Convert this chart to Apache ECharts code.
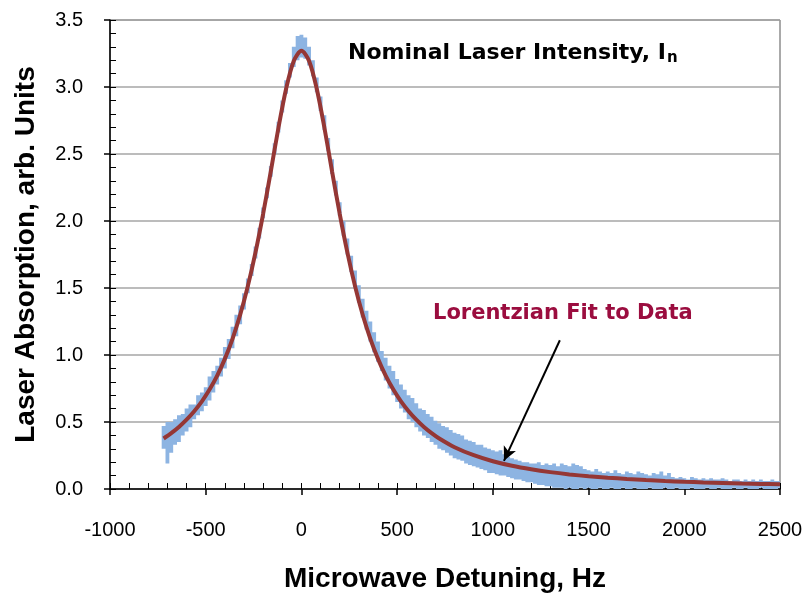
<!DOCTYPE html>
<html>
<head>
<meta charset="utf-8">
<script src="https://cdn.jsdelivr.net/npm/echarts@6/dist/echarts.min.js"></script>
<style>
  html, body { margin: 0; padding: 0; background: #fff; }
  #chart { width: 808px; height: 593px; }
</style>
</head>
<body>
<div id="chart"></div>
<script>
// measured trace, sampled every 20 Hz starting at -720 Hz (low / high of the noisy trace)
const blueStart = -720
const blueStep = 20
const blueLow = [
  0.30, 0.19, 0.27, 0.33, 0.35, 0.40, 0.43, 0.46, 0.52, 0.55,
  0.58, 0.62, 0.66, 0.72, 0.78, 0.84, 0.90, 0.97, 1.05, 1.14,
  1.23, 1.34, 1.46, 1.59, 1.72, 1.87, 2.02, 2.17, 2.33, 2.50,
  2.66, 2.81, 2.95, 3.07, 3.15, 3.20, 3.22, 3.21, 3.16, 3.08,
  2.96, 2.82, 2.68, 2.52, 2.35, 2.19, 2.04, 1.89, 1.75, 1.62,
  1.50, 1.39, 1.28, 1.19, 1.10, 1.02, 0.95, 0.88, 0.81, 0.75,
  0.70, 0.65, 0.60, 0.57, 0.52, 0.50, 0.46, 0.43, 0.40, 0.38,
  0.35, 0.33, 0.30, 0.29, 0.27, 0.25, 0.23, 0.22, 0.21, 0.19,
  0.18, 0.17, 0.16, 0.15, 0.14, 0.12, 0.12, 0.11, 0.10, 0.10,
  0.09, 0.08, 0.07, 0.07, 0.06, 0.05, 0.05, 0.04, 0.03, 0.03,
  0.02, 0.02, 0.01, 0.01, 0.01, 0.00, 0.01, 0.00, 0.00, 0.01,
  0.00, 0.01, 0.00, 0.00, 0.01, 0.00, 0.00, 0.01, 0.00, 0.00,
  0.01, 0.00, 0.00, 0.01, 0.00, 0.00, 0.00, 0.01, 0.00, 0.00,
  0.00, 0.01, 0.00, 0.00, 0.01, 0.00, 0.00, 0.00, 0.01, 0.00,
  0.00, 0.00, 0.01, 0.00, 0.00, 0.01, 0.00, 0.00, 0.00, 0.01,
  0.00, 0.00, 0.01, 0.00, 0.00, 0.00, 0.01, 0.00, 0.00, 0.00,
  0.00, 0.01
]
const blueHigh = [
  0.47, 0.50, 0.50, 0.52, 0.55, 0.56, 0.60, 0.63, 0.63, 0.70,
  0.72, 0.76, 0.84, 0.88, 0.92, 0.98, 1.06, 1.12, 1.21, 1.30,
  1.37, 1.46, 1.57, 1.68, 1.81, 1.95, 2.10, 2.25, 2.41, 2.58,
  2.74, 2.90, 3.05, 3.18, 3.30, 3.38, 3.39, 3.37, 3.30, 3.20,
  3.07, 2.93, 2.79, 2.62, 2.46, 2.30, 2.14, 2.00, 1.87, 1.74,
  1.63, 1.52, 1.42, 1.33, 1.25, 1.17, 1.10, 1.03, 0.98, 0.92,
  0.88, 0.82, 0.78, 0.74, 0.70, 0.68, 0.64, 0.60, 0.59, 0.56,
  0.54, 0.51, 0.49, 0.47, 0.46, 0.44, 0.42, 0.41, 0.40, 0.37,
  0.36, 0.35, 0.33, 0.33, 0.31, 0.30, 0.29, 0.28, 0.29, 0.26,
  0.24, 0.23, 0.22, 0.21, 0.20, 0.20, 0.19, 0.19, 0.20, 0.18,
  0.19, 0.18, 0.19, 0.17, 0.19, 0.18, 0.17, 0.19, 0.18, 0.17,
  0.15, 0.14, 0.13, 0.15, 0.13, 0.12, 0.13, 0.12, 0.14, 0.12,
  0.11, 0.13, 0.12, 0.11, 0.13, 0.12, 0.11, 0.10, 0.12, 0.11,
  0.13, 0.10, 0.12, 0.09, 0.08, 0.09, 0.08, 0.07, 0.09, 0.08,
  0.07, 0.08, 0.07, 0.08, 0.07, 0.07, 0.08, 0.07, 0.06, 0.07,
  0.07, 0.06, 0.07, 0.06, 0.07, 0.06, 0.07, 0.06, 0.06, 0.07,
  0.06, 0.06
]

// Lorentzian fit curve
const fitX = [-720, -680, -640, -600, -560, -520, -480, -440, -400, -360, -320, -280, -240, -200, -160, -120, -80, -40, 0,
  40, 80, 120, 160, 200, 240, 280, 320, 360, 400, 440, 480, 520, 560, 600, 640, 680, 720,
  800, 900, 1000, 1100, 1200, 1300, 1400, 1500, 1600, 1700, 1800, 1900, 2000, 2100, 2200, 2300, 2400, 2500]
const fitY = [0.377, 0.417, 0.463, 0.517, 0.580, 0.654, 0.742, 0.846, 0.971, 1.121, 1.300, 1.514, 1.766, 2.054, 2.371, 2.696, 2.987, 3.194, 3.27,
  3.194, 2.987, 2.696, 2.371, 2.054, 1.766, 1.514, 1.300, 1.121, 0.971, 0.846, 0.742, 0.654, 0.580, 0.517, 0.463, 0.417, 0.377,
  0.312, 0.252, 0.207, 0.173, 0.147, 0.126, 0.109, 0.095, 0.084, 0.075, 0.067, 0.060, 0.054, 0.049, 0.045, 0.041, 0.038, 0.035]

// arrow from label to curve
const arrowFrom = [1350, 1.11]
const arrowTo = [1058, 0.21]

const xMin = -1000
const xMax = 2500

const chart = echarts.init(document.getElementById('chart'))

const n = Math.min(blueLow.length, blueHigh.length)
const blueData = []
for (let i = 0; i < n; i++) {
  blueData.push([blueStart + i * blueStep, blueLow[i], blueHigh[i]])
}
const fitData = fitX.map((x, i) => [x, fitY[i]])

// noisy trace drawn as one stepped band: top edge through highs, bottom edge through lows
function renderBand(params, api) {
  if (params.dataIndex !== 0) return null
  const half = blueStep / 2
  const top = []
  const bottom = []
  for (let i = 0; i < blueData.length; i++) {
    const d = blueData[i]
    const xl = Math.max(d[0] - half, xMin)
    const xr = Math.min(d[0] + half, xMax)
    top.push(api.coord([xl, d[2]]), api.coord([xr, d[2]]))
    bottom.push(api.coord([xl, d[1]]), api.coord([xr, d[1]]))
  }
  return {
    type: 'polygon',
    shape: { points: top.concat(bottom.reverse()) },
    style: { fill: '#8db4e2' }
  }
}

const labelFont = 'Liberation Sans, Arial, sans-serif'
const comic = '"DejaVu Sans", sans-serif'

chart.setOption({
  animation: false,
  backgroundColor: '#fff',
  title: {
    text: '{a|Nominal Laser Intensity, I}{s|n}',
    left: 343,
    top: 35,
    textStyle: {
      rich: {
        a: { fontFamily: comic, fontWeight: 'bold', fontSize: 22, color: '#000' },
        s: { fontFamily: comic, fontWeight: 'bold', fontSize: 15, color: '#000', padding: [11, 0, 0, 1] }
      }
    }
  },
  grid: {
    left: 110, right: 28, top: 20, bottom: 104,
    outerBoundsMode: 'none',
    show: true, borderColor: '#555', borderWidth: 1
  },
  xAxis: [{
    type: 'value', min: xMin, max: xMax, interval: 500,
    axisLine: { onZero: false, lineStyle: { color: '#000', width: 1.5 } },
    axisTick: { length: 6, lineStyle: { color: '#000', width: 1.5 } },
    axisLabel: { margin: 31, fontSize: 20, color: '#000', fontFamily: labelFont, formatter: v => String(v) },
    splitLine: { show: false },
    name: 'Microwave Detuning, Hz',
    nameLocation: 'middle',
    nameGap: 76,
    nameTextStyle: { fontSize: 28, fontWeight: 'bold', color: '#000', fontFamily: labelFont }
  }, {
    type: 'value', min: xMin, max: xMax, interval: 100, position: 'bottom',
    axisLine: { show: false, onZero: false },
    axisTick: { inside: true, length: 6, lineStyle: { color: '#000', width: 1 } },
    axisLabel: { show: false },
    splitLine: { show: false }
  }],
  yAxis: [{
    type: 'value', min: 0, max: 3.5, interval: 0.5,
    axisLine: { show: true, onZero: false, lineStyle: { color: '#000', width: 1.5 } },
    axisTick: { show: true, length: 6, lineStyle: { color: '#000', width: 1.5 } },
    axisLabel: { margin: 27, fontSize: 20, color: '#000', fontFamily: labelFont, formatter: v => v.toFixed(1) },
    splitLine: { lineStyle: { color: '#a6a6a6', width: 1.5 } },
    name: 'Laser Absorption, arb. Units',
    nameLocation: 'middle',
    nameGap: 70,
    nameTextStyle: { fontSize: 28, fontWeight: 'bold', color: '#000', fontFamily: labelFont }
  }, {
    type: 'value', min: 0, max: 3.5, interval: 0.1, position: 'left',
    axisLine: { show: false, onZero: false },
    axisTick: { show: true, inside: true, length: 6, lineStyle: { color: '#000', width: 1 } },
    axisLabel: { show: false },
    splitLine: { show: false }
  }],
  series: [{
    name: 'Data',
    type: 'custom',
    data: blueData,
    encode: { x: 0, y: [1, 2] },
    renderItem: renderBand,
    silent: true,
    z: 2
  }, {
    name: 'Lorentzian Fit',
    type: 'line',
    data: fitData,
    smooth: 0.3,
    showSymbol: false,
    lineStyle: { color: '#953735', width: 4 },
    z: 3,
    markLine: {
      silent: true,
      symbol: ['none', 'arrow'],
      symbolSize: [10, 14],
      label: { show: false },
      lineStyle: { color: '#000', width: 2, type: 'solid' },
      data: [[{ coord: arrowFrom }, { coord: arrowTo }]]
    }
  }],
  graphic: [{
    type: 'text',
    left: 433,
    top: 303,
    style: {
      text: 'Lorentzian Fit to Data',
      fill: '#9b0d3f',
      font: 'bold 21px "DejaVu Sans", sans-serif'
    }
  }]
})
</script>
</body>
</html>
